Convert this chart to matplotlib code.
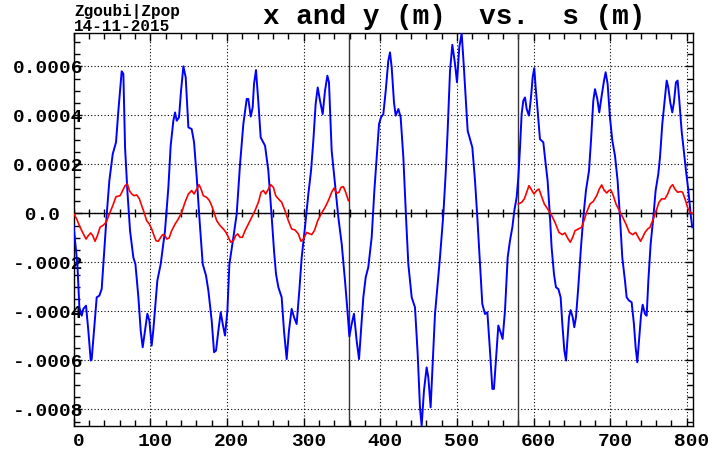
import numpy as np
import matplotlib
matplotlib.use('Agg')
import matplotlib.pyplot as plt
from matplotlib.ticker import MultipleLocator, FixedLocator
import matplotlib.transforms as mtrans

# x (m) vs s (m), values in units of 1e-4 m
s_x = [0, 5, 7.6, 10.7, 12.8, 16.3, 19.3, 22.4, 23.7, 26.7, 30.2, 33.7, 36.7, 38.9,
       43.3, 46.7, 51.1, 55.4, 58.5, 60.7, 62.8, 65, 67.2, 70.2, 73.7, 78, 80.7,
       84.6, 87.6, 90.2, 93.3, 96.3, 98.9, 101.9, 104, 109.3, 113.7, 119.3, 123.7,
       126.7, 130.2, 132.4, 134.6, 137.6, 140.2, 143.3, 146.3, 149.8, 154.1, 157.2,
       160.7, 164.1, 168.5, 172.8, 175.9, 180.2, 183.3, 185.9, 188.9, 192, 194.6,
       197.6, 200.7, 203.3, 208.5, 212.8, 217.2, 221.5, 225.9, 228, 231.1, 233.7,
       235.4, 238, 241.1, 244.1, 249.8, 254.1, 258.5, 261.5, 264.1, 267.2, 271.5,
       274.5, 278, 281, 284.5, 287.6, 291, 294.5, 297.6, 301.9, 306.3, 309.8, 312.8,
       315.8, 318.5, 321.5, 325, 328, 331.1, 333.2, 336.7, 340.2, 345.4, 349.8,
       354.1, 357.6, 359.8, 362.8, 365.8, 369.3, 372.4, 375, 378, 381.1, 384.5,
       388.9, 392.4, 395.4, 398.5, 401.1, 404.1, 407.2, 410.6, 412.8, 415, 418,
       420.2, 423.7, 426.7, 430.2, 433.7, 436.7, 441.1, 445.4, 448.9, 451.9, 454.1,
       457.1, 460.6, 462.8, 465.8, 468.5, 471.5, 475, 478, 482.4, 485.4, 488, 491.1,
       494.1, 497.6, 500.2, 503.2, 506.3, 508.9, 511.5, 514.1, 517.2, 520.2, 523.7,
       526.7, 530.2, 533.2, 536.7, 539.8, 543.2, 546.3, 548.4, 551, 554.1, 557.1,
       559.7, 562.8, 566.3, 569.3, 572.4, 575, 578, 580.2, 582.4, 584.5, 586.7,
       588.9, 591.1, 594.1, 596.7, 598.9, 601, 602.8, 605.4, 608.4, 612.8, 614.9,
       618.4, 621.5, 623.6, 626.7, 629.3, 632.4, 635.4, 637.6, 640.2, 642.4, 644.5,
       646.3, 648.4, 651.1, 653.2, 655.4, 658.4, 661.9, 665, 668.4, 672.4, 675, 678,
       680.2, 683.2, 685.8, 688.9, 692, 694.1, 696.7, 699.7, 702.8, 706.3, 709.7,
       712.8, 715.8, 719.3, 721.5, 724.5, 728, 731, 733.2, 735.4, 737.6, 740.2,
       742.4, 745.4, 747.6, 749.8, 752.8, 756.3, 759.3, 762.8, 765, 768, 771.5,
       773.7, 775.8, 778.4, 781, 783.2, 785.8, 788, 790.2, 793.2, 796.7, 798.9, 802,
       805.4, 807.2]
x_m = [-0.5, -2.07, -3.84, -4.18, -3.9, -3.77, -4.79, -6.01, -5.95, -4.79, -3.43,
       -3.36, -3.09, -2.07, -0.03, 1.33, 2.42, 2.9, 4.2, 5.0, 5.8, 5.69, 2.69, 0.93,
       -0.71, -1.8, -2.07, -3.43, -4.79, -5.47, -4.79, -4.1, -4.38, -5.4, -4.79,
       -2.75, -2.07, -0.71, 1.06, 2.76, 3.78, 4.12, 3.78, 3.92, 5.0, 6.0, 5.55, 3.51,
       3.44, 2.9, 1.47, -0.16, -2.07, -2.54, -3.16, -4.38, -5.67, -5.6, -4.79, -4.04,
       -4.52, -4.99, -3.97, -2.07, -0.98, -0.03, 2.01, 3.65, 4.67, 4.67, 3.95, 4.33,
       5.28, 5.85, 4.53, 3.1, 2.76, 1.74, -0.16, -1.52, -2.48, -3.02, -3.43, -4.79,
       -5.95, -4.79, -3.9, -4.24, -4.52, -3.16, -1.8, -0.57, 0.79, 1.74, 2.97, 4.46,
       5.14, 4.6, 4.05, 5.0, 5.62, 5.35, 2.56, 1.47, -0.16, -1.25, -2.75, -4.1,
       -5.03, -4.52, -4.1, -5.2, -5.95, -4.79, -3.43, -2.61, -2.2, -0.98, 0.93, 2.29,
       3.65, 3.92, 4.05, 5.0, 6.23, 6.57, 5.96, 4.53, 3.99, 4.26, 3.92, 2.29, -0.16,
       -2.07, -3.43, -3.84, -5.74, -7.92, -8.67, -7.24, -6.29, -6.7, -7.92, -6.15,
       -4.11, -2.88, -1.8, -0.03, 1.61, 3.37, 5.82, 6.88, 6.1, 5.35, 6.78, 7.35, 6.1,
       4.73, 3.37, 3.03, 2.69, 1.33, -0.16, -2.07, -3.7, -4.11, -4.04, -5.6, -7.17,
       -7.17, -6.01, -4.58, -4.86, -5.13, -3.97, -1.8, -1.12, -0.57, 0.11, 0.65,
       1.47, 2.69, 4.05, 4.6, 4.73, 4.26, 3.99, 4.73, 5.55, 5.93, 5.14, 4.19, 3.03,
       2.9, 2.29, 1.33, -0.16, -1.39, -2.48, -3.02, -3.09, -3.43, -4.52, -5.6, -6.01,
       -5.06, -4.24, -3.95, -4.24, -4.65, -4.24, -3.02, -1.39, -0.16, 0.93, 1.74,
       2.97, 4.6, 5.07, 4.67, 4.12, 4.8, 5.42, 5.76, 5.28, 3.92, 2.97, 2.35, 1.33,
       -0.16, -1.8, -2.75, -3.43, -3.56, -3.63, -4.52, -5.47, -6.08, -5.2, -4.18,
       -3.73, -4.11, -4.18, -2.75, -1.25, -0.16, 0.93, 1.61, 2.29, 3.65, 4.73, 5.42,
       5.14, 4.53, 4.12, 4.53, 5.35, 5.42, 4.6, 3.37, 2.35, 1.74, 0.93, -0.16, -0.57]

# y (m) vs s (m), two segments, units of 1e-4 m
s_y1 = [0, 4.1, 8.5, 12.8, 16.3, 19.3, 22.4, 25, 28, 31.1, 34.6, 38.9, 42.4, 46.7,
        51.1, 55.4, 60.7, 64.1, 67.2, 70.2, 72.8, 75.9, 78.9, 82.4, 85.9, 88.9, 92,
        95.4, 98.9, 101.9, 105, 107.6, 110.7, 113.7, 116.3, 119.3, 121.5, 124.6, 128,
        132.4, 136.7, 141.1, 145.4, 149.8, 154.1, 157.2, 160.7, 163.7, 166.3, 169.3,
        173.7, 177.2, 180.2, 183.3, 186.7, 191.1, 195.4, 198.9, 202, 205, 208.5,
        211.5, 214.1, 217.2, 220.2, 223.7, 228, 232.4, 236.7, 241.1, 244.6, 247.6,
        250.7, 254.1, 257.2, 260.7, 263.7, 267.2, 271.5, 275.8, 280.2, 284.5, 288.9,
        293.2, 296.7, 299.8, 304.1, 307.1, 310.6, 314.1, 318.5, 322.8, 328, 332.4,
        336.7, 339.8, 343.2, 346.3, 348.9, 352, 355, 358.5]
y_m1 = [0, -0.23, -0.57, -0.84, -1.05, -0.91, -0.8, -0.91, -1.14, -0.91, -0.57,
        -0.48, -0.37, -0.03, 0.31, 0.68, 0.72, 0.93, 1.13, 1.2, 0.93, 0.79, 0.72,
        0.75, 0.59, 0.31, 0.04, -0.3, -0.44, -0.64, -0.91, -1.12, -1.14, -0.98, -0.87,
        -0.91, -1.05, -1.01, -0.71, -0.44, -0.23, 0.04, 0.45, 0.79, 0.93, 0.79, 0.99,
        1.17, 0.99, 0.72, 0.65, 0.52, 0.31, 0.04, -0.3, -0.5, -0.64, -0.78, -0.98,
        -1.18, -1.12, -0.91, -0.84, -0.98, -0.98, -0.71, -0.44, -0.16, 0.11, 0.45,
        0.86, 0.93, 0.79, 0.99, 1.17, 1.06, 0.72, 0.59, 0.45, 0.11, -0.3, -0.64,
        -0.68, -0.84, -1.14, -1.05, -0.78, -0.82, -0.87, -0.71, -0.3, -0.03, 0.24,
        0.52, 0.86, 1.03, 0.82, 0.86, 1.06, 1.09, 0.86, 0.52]
s_y2 = [580.2, 584.5, 588, 591.1, 594.1, 597.6, 600.6, 604.1, 607.1, 610.6, 614.1,
        618.4, 622.8, 628, 633.2, 637.6, 641, 644.5, 648, 651.1, 654.1, 658.4, 662.8,
        665.8, 669.3, 673.7, 678, 682.4, 685.8, 688.9, 692, 695.4, 698.4, 701, 704.1,
        707.6, 712, 716.3, 720.6, 725, 729.3, 733.2, 736.7, 739.7, 742.4, 745.4,
        748.9, 751.9, 755.4, 759.3, 763.7, 767.2, 771.5, 775, 778.4, 781.5, 784.5,
        788, 791.9, 794.5, 797.6, 801, 804.1, 807.2]
y_m2 = [0.38, 0.45, 0.59, 0.86, 1.13, 0.95, 0.79, 0.93, 0.99, 0.68, 0.38, 0.18,
        -0.03, -0.37, -0.78, -0.87, -0.8, -1.01, -1.18, -0.98, -0.71, -0.64, -0.57,
        -0.3, 0.04, 0.38, 0.49, 0.72, 0.99, 1.16, 0.95, 0.83, 0.93, 0.95, 0.72, 0.38,
        0.11, -0.16, -0.44, -0.78, -0.87, -0.78, -0.98, -1.14, -0.98, -0.78, -0.64,
        -0.57, -0.3, 0.04, 0.45, 0.59, 0.59, 0.79, 1.06, 1.17, 0.99, 0.86, 0.89,
        0.86, 0.59, 0.24, 0.04, 0.0]

section_marks = [359, 580]
y_ticks = [0.0006, 0.0004, 0.0002, 0.0, -0.0002, -0.0004, -0.0006, -0.0008]
y_ticklabels = ['0.0006', '0.0004', '0.0002', ' 0.0', '-.0002', '-.0004', '-.0006', '-.0008']
x_ticks = [0, 100, 200, 300, 400, 500, 600, 700, 800]

mono = 'Liberation Mono'

fig = plt.figure(figsize=(7.14, 4.53), dpi=100)
ax = fig.add_axes([0.103, 0.0603, 0.867, 0.8662])

ax.plot(s_x, np.array(x_m) * 1e-4, color='#0000ff', lw=1.4, zorder=4)
ax.plot(s_y1, np.array(y_m1) * 1e-4, color='#ff0000', lw=1.2, zorder=5)
ax.plot(s_y2, np.array(y_m2) * 1e-4, color='#ff0000', lw=1.2, zorder=5)

for s in section_marks:
    ax.axvline(s, color='#333333', lw=1.0, zorder=3)

ax.set_xlim(0, 807.5)
ax.set_ylim(-0.000867, 0.000735)

ax.xaxis.set_major_locator(FixedLocator(x_ticks))
ax.xaxis.set_minor_locator(MultipleLocator(20))
ax.yaxis.set_major_locator(FixedLocator(y_ticks))
ax.yaxis.set_minor_locator(MultipleLocator(0.00005))
ax.set_xticklabels([str(t) for t in x_ticks])
ax.set_yticklabels(y_ticklabels)

ax.grid(True, which='major', color='k', ls=(0, (1, 2)), lw=0.8)

# zero line with small ticks
ax.axhline(0, color='k', lw=1.0, zorder=3)
zt = np.arange(0, 801, 20)
ax.plot(zt, np.zeros_like(zt), '|', color='k', ms=6, mew=1.0, zorder=3)

ax.tick_params(which='both', direction='in', top=True, right=True, width=1.0, colors='k')
ax.tick_params(which='major', length=6)
ax.tick_params(which='minor', length=4)
ax.tick_params(axis='x', pad=5, labelsize=14)
ax.tick_params(axis='y', pad=43.5, labelsize=14)

for lab in ax.get_xticklabels():
    lab.set_fontfamily(mono)
    lab.set_fontweight('bold')
    lab.set_transform(lab.get_transform() + mtrans.ScaledTranslation(0.05, 0, fig.dpi_scale_trans))
for lab in ax.get_yticklabels():
    lab.set_fontfamily(mono)
    lab.set_fontweight('bold')
    lab.set_horizontalalignment('left')

for sp in ax.spines.values():
    sp.set_linewidth(1.0)
    sp.set_color('k')

fig.text(263 / 714, 1 - 23.5 / 453, 'x and y (m)  vs.  s (m)', family=mono,
         fontweight='bold', fontsize=20, ha='left', va='baseline')
fig.text(74 / 714, 1 - 16 / 453, 'Zgoubi|Zpop', family=mono,
         fontweight='bold', fontsize=11.5, ha='left', va='baseline')
fig.text(74 / 714, 1 - 31 / 453, '14-11-2015', family=mono,
         fontweight='bold', fontsize=11.5, ha='left', va='baseline')

fig.savefig('out.png', dpi=100)
